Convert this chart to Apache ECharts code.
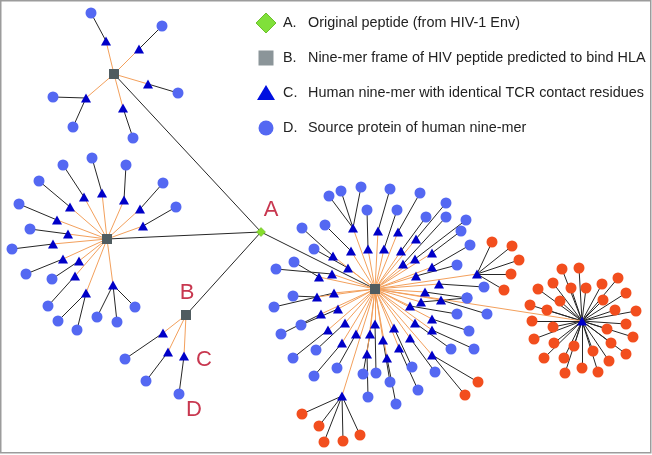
<!DOCTYPE html>
<html><head><meta charset="utf-8">
<script src="https://cdn.jsdelivr.net/npm/echarts/dist/echarts.min.js"></script>
<style>html,body{margin:0;padding:0;background:#fff}#c{width:652px;height:455px}</style>
</head><body><div id="c"></div>
<script>
// ---- data (in the picture's pixel units) ----
const peptideA = [261, 232];                       // A. original peptide
const frames = [[114, 74], [107, 239], [186, 315], [375, 289]];   // B. nine-mer frames
// C. human nine-mers: [frameIndex, x, y, [[proteinX, proteinY, group], ...]]  group 'b' blue / 'o' orange
const nineMers = [
  [0,106,41,[[91,13,'b']]],
  [0,139,49,[[162,26,'b']]],
  [0,148,84,[[178,93,'b']]],
  [0,123,108,[[133,138,'b']]],
  [0,86,98,[[53,97,'b'],[73,127,'b']]],

  [1,84,197,[[63,165,'b']]],
  [1,102,193,[[92,158,'b']]],
  [1,124,200,[[126,165,'b']]],
  [1,140,209,[[163,183,'b']]],
  [1,143,226,[[176,207,'b']]],
  [1,70,207,[[39,181,'b']]],
  [1,57,220,[[19,204,'b']]],
  [1,68,234,[[30,229,'b']]],
  [1,53,244,[[12,249,'b']]],
  [1,63,259,[[26,274,'b']]],
  [1,79,261,[[52,279,'b']]],
  [1,75,276,[[48,306,'b']]],
  [1,86,293,[[58,321,'b'],[77,330,'b']]],
  [1,113,285,[[97,317,'b'],[117,322,'b'],[135,307,'b']]],

  [2,163,333,[[125,359,'b']]],
  [2,168,352,[[146,381,'b']]],
  [2,184,356,[[179,394,'b']]],

  [3,353,228,[[329,196,'b'],[341,191,'b'],[361,187,'b']]],
  [3,368,249,[[367,210,'b']]],
  [3,351,251,[[325,225,'b']]],
  [3,333,256,[[302,228,'b']]],
  [3,348,268,[[314,249,'b']]],
  [3,319,277,[[294,262,'b']]],
  [3,332,274,[[276,269,'b']]],
  [3,317,297,[[293,296,'b']]],
  [3,334,293,[[274,307,'b']]],
  [3,321,314,[[281,334,'b']]],
  [3,338,309,[[301,325,'b']]],
  [3,328,330,[[293,358,'b']]],
  [3,345,323,[[316,350,'b']]],
  [3,342,343,[[314,376,'b']]],
  [3,356,334,[[337,368,'b']]],
  [3,375,324,[[376,373,'b']]],
  [3,370,334,[[363,374,'b']]],
  [3,367,354,[[368,397,'b']]],
  [3,342,396,[[302,414,'o'],[319,426,'o'],[324,442,'o'],[343,441,'o'],[360,435,'o']]],
  [3,383,340,[[390,382,'b']]],
  [3,387,358,[[396,404,'b']]],
  [3,394,328,[[412,367,'b']]],
  [3,399,348,[[418,390,'b']]],
  [3,410,338,[[435,372,'b']]],
  [3,415,323,[[451,349,'b']]],
  [3,432,330,[[474,349,'b']]],
  [3,432,319,[[469,331,'b']]],
  [3,410,306,[[457,314,'b']]],
  [3,441,300,[[487,314,'b']]],
  [3,421,302,[[467,298,'b']]],
  [3,425,292,[[467,298,'b']]],
  [3,439,284,[[484,287,'b']]],
  [3,432,355,[[478,382,'o'],[465,395,'o']]],
  [3,378,231,[[390,189,'b']]],
  [3,398,232,[[420,193,'b']]],
  [3,384,249,[[397,210,'b']]],
  [3,416,239,[[446,203,'b']]],
  [3,401,251,[[426,217,'b']]],
  [3,403,264,[[446,217,'b']]],
  [3,415,259,[[466,220,'b']]],
  [3,432,253,[[461,231,'b']]],
  [3,432,267,[[470,245,'b']]],
  [3,416,276,[[457,265,'b']]],
  [3,477,274,[[492,242,'o'],[512,246,'o'],[519,260,'o'],[511,274,'o'],[504,290,'o']]],
  [3,582,321,[[562,269,'o'],[579,268,'o'],[618,278,'o'],[538,289,'o'],[553,283,'o'],[571,288,'o'],
              [586,288,'o'],[602,284,'o'],[626,293,'o'],[560,301,'o'],[603,300,'o'],[530,305,'o'],
              [547,310,'o'],[615,310,'o'],[636,311,'o'],[532,321,'o'],[553,327,'o'],[626,324,'o'],
              [607,329,'o'],[534,339,'o'],[633,337,'o'],[554,343,'o'],[611,343,'o'],[574,346,'o'],
              [593,351,'o'],[544,358,'o'],[564,358,'o'],[626,354,'o'],[609,361,'o'],[565,373,'o'],
              [582,368,'o'],[598,372,'o']]]
];
const pointLabels = ['A', 'B', 'C', 'D'];
const legendLetters = ['A.', 'B.', 'C.', 'D.'];
const legendTexts = [
  'Original peptide (from HIV-1 Env)',
  'Nine-mer frame of HIV peptide predicted to bind HLA',
  'Human nine-mer with identical TCR contact residues',
  'Source protein of human nine-mer'
];

// ---- styles ----
const COL = {
  diamond: '#86dc2c', square: '#505c60', tri: '#0000c8', blue: '#5468f2', orange: '#f24e1e',
  orangeLine: '#f3a05c', blackLine: '#262626', label: '#c8374f'
};
const labelStyle = (txt, dx, dy) => ({
  show: true, formatter: txt, position: 'inside', offset: [dx, dy],
  color: COL.label, fontSize: 22, fontFamily: 'Liberation Sans, Arial, sans-serif'
});

const nodes = [], links = [];
function addNode(v, symbol, size, color, extra) {
  nodes.push(Object.assign({ id: 'n' + nodes.length, name: 'n' + nodes.length, value: v, symbol, symbolSize: size,
    itemStyle: { color } }, extra || {}));
  return nodes.length - 1;
}
const aIdx = addNode(peptideA, 'diamond', 9, COL.diamond,
  { itemStyle: { color: COL.diamond, borderColor: '#5fae1e', borderWidth: 0.5 }, label: labelStyle(pointLabels[0], 10, -22) });
const frameIdx = frames.map((f, i) => addNode(f, 'rect', 10, COL.square,
  i === 2 ? { label: labelStyle(pointLabels[1], 1, -22) } : {}));
frameIdx.forEach(fi => links.push({ source: fi, target: aIdx, lineStyle: { color: COL.blackLine, width: 1 } }));
const triLinks = [], protLinks = [];
nineMers.forEach((m, k) => {
  const isC = (m[0] === 2 && k === nineMers.findIndex(q => q[0] === 2) + 2);
  const t = addNode([m[1], m[2]], 'triangle', [10, 9], COL.tri, isC ? { label: labelStyle(pointLabels[2], 20, 4) } : {});
  triLinks.push({ source: frameIdx[m[0]], target: t, lineStyle: { color: COL.orangeLine, width: 1 } });
  m[3].forEach(p => {
    const c = addNode([p[0], p[1]], 'circle', 11, p[2] === 'o' ? COL.orange : COL.blue,
      isC ? { label: labelStyle(pointLabels[3], 15, 16) } : {});
    protLinks.push({ source: t, target: c, lineStyle: { color: COL.blackLine, width: 1 } });
  });
});
links.push(...protLinks, ...triLinks);

// ---- legend (drawn as graphic) ----
const graphics = [];
const fontFam = 'Liberation Sans, Arial, sans-serif';
legendTexts.forEach((t, i) => {
  const y = 23 + i * 35, x = 266;
  let mk;
  if (i === 0) mk = { type: 'polygon', shape: { points: [[x, y - 10], [x + 10, y], [x, y + 10], [x - 10, y]] },
                      style: { fill: '#80e03a', stroke: '#6cc02c', lineWidth: 1 } };
  else if (i === 1) mk = { type: 'rect', shape: { x: x - 7.5, y: y - 7.5, width: 15, height: 15 }, style: { fill: '#8b9599' } };
  else if (i === 2) mk = { type: 'polygon', shape: { points: [[x, y - 8], [x + 9, y + 7], [x - 9, y + 7]] }, style: { fill: '#0010e0' } };
  else mk = { type: 'circle', shape: { cx: x, cy: y, r: 7.5 }, style: { fill: COL.blue } };
  graphics.push(mk);
  graphics.push({ type: 'text', x: 283, y: y, style: { text: legendLetters[i], fill: '#222', font: '14.4px ' + fontFam, verticalAlign: 'middle' } });
  graphics.push({ type: 'text', x: 308, y: y, style: { text: t, fill: '#222', font: '14.4px ' + fontFam, verticalAlign: 'middle' } });
});
graphics.push({ type: 'rect', z: 100, shape: { x: 0.75, y: 0.75, width: 650, height: 452 },
  style: { fill: 'none', stroke: '#9c9c9c', lineWidth: 1.5 } });

const chart = echarts.init(document.getElementById('c'), null, { renderer: 'canvas' });
chart.setOption({
  animation: false,
  backgroundColor: '#fff',
  grid: { left: 0, right: 0, top: 0, bottom: 0 },
  xAxis: { type: 'value', min: 0, max: 652, show: false },
  yAxis: { type: 'value', min: 0, max: 455, inverse: true, show: false },
  graphic: graphics,
  series: [{
    type: 'graph', coordinateSystem: 'cartesian2d', layout: 'none', silent: true,
    data: nodes, links: links,
    lineStyle: { opacity: 1, curveness: 0 },
    emphasis: { disabled: true }
  }]
});
</script></body></html>
